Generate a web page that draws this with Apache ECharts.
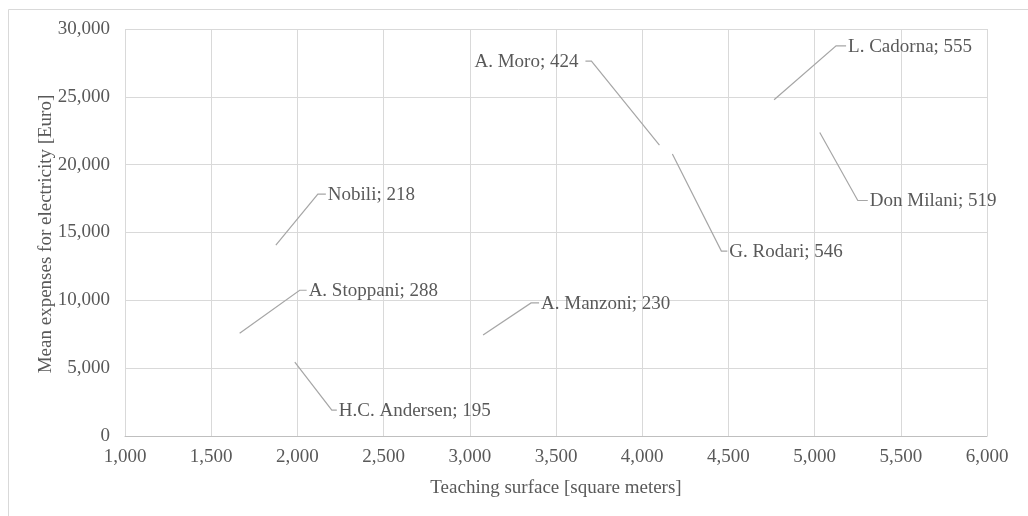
<!DOCTYPE html>
<html>
<head>
<meta charset="utf-8">
<script src="https://cdn.jsdelivr.net/npm/echarts@6/dist/echarts.min.js"></script>
<style>
  html, body { margin: 0; padding: 0; background: #ffffff; }
  #chart { width: 1028px; height: 516px; }
</style>
</head>
<body>
<div id="chart"></div>
<script>
// Schools: teaching surface vs. mean electricity expenses
const schools = ['Nobili', 'A. Stoppani', 'H.C. Andersen', 'A. Manzoni', 'A. Moro', 'G. Rodari', 'L. Cadorna', 'Don Milani'];
const pupils = [218, 288, 195, 230, 424, 546, 555, 519];
const surface = [1875, 1665, 1985, 3077, 4100, 4175, 4765, 5030];
const expenses = [14070, 7575, 5440, 7450, 21440, 20780, 24780, 22370];

// Leader-line geometry per label, in pixels: [elbow dx, elbow dy, horizontal run]
// A negative run puts the label on the left side of the elbow.
const leader = [
  [42, -51, 8],
  [60, -43, 7],
  [37, 48, 5],
  [48, -32, 8],
  [-68, -84, -6],
  [49, 97, 6],
  [62, -54, 10],
  [38, 68, 10]
];

const FONT = '"Times New Roman", "Liberation Serif", "DejaVu Serif", serif';
const SIZE = 19;
const TEXT = '#595959';
const fmt = v => String(v).replace(/\B(?=(\d{3})+(?!\d))/g, ',');

const data = surface.map((x, i) => [x, expenses[i], i]);

const chart = echarts.init(document.getElementById('chart'), null, { renderer: 'canvas' });
chart.setOption({
  animation: false,
  backgroundColor: '#ffffff',
  grid: { left: 125, right: 41, top: 29, bottom: 80, containLabel: false },
  xAxis: {
    type: 'value', min: 1000, max: 6000, interval: 500,
    axisLine: { show: true, lineStyle: { color: '#bfbfbf', width: 1 } },
    axisTick: { show: false },
    axisLabel: { color: TEXT, fontFamily: FONT, fontSize: SIZE, margin: 12, formatter: fmt },
    splitLine: { show: true, lineStyle: { color: '#d9d9d9', width: 1 } }
  },
  yAxis: {
    type: 'value', min: 0, max: 30000, interval: 5000,
    axisLine: { show: false },
    axisTick: { show: false },
    axisLabel: { color: TEXT, fontFamily: FONT, fontSize: SIZE, margin: 15, formatter: fmt },
    splitLine: { show: true, lineStyle: { color: '#d9d9d9', width: 1 } }
  },
  graphic: [
    {
      type: 'rect', left: 6, top: 7, silent: true, z: -1,
      shape: { x: 0.5, y: 0.5, width: 1040, height: 530 },
      style: { fill: 'none', stroke: '#d9d9d9', lineWidth: 1 }
    },
    {
      type: 'text', x: 556, y: 488,
      style: { text: 'Teaching surface [square meters]', fill: TEXT, font: SIZE + 'px ' + FONT, align: 'center', verticalAlign: 'middle' }
    },
    {
      type: 'text', x: 46, y: 234, rotation: Math.PI / 2,
      style: { text: 'Mean expenses for electricity [Euro]', fill: TEXT, font: SIZE + 'px ' + FONT, align: 'center', verticalAlign: 'middle' }
    }
  ],
  series: [{
    type: 'custom',
    data: data,
    encode: { x: 0, y: 1 },
    clip: false,
    renderItem: function (params, api) {
      const i = api.value(2);
      const p = api.coord([api.value(0), api.value(1)]);
      const g = leader[i];
      const ex = p[0] + g[0], ey = p[1] + g[1];
      const hx = ex + g[2];
      const left = g[2] >= 0;
      return {
        type: 'group',
        children: [
          {
            type: 'polyline',
            shape: { points: [p, [ex, ey], [hx, ey]] },
            style: { stroke: '#a6a6a6', lineWidth: 1.2, fill: 'none' }
          },
          {
            type: 'text',
            x: left ? hx + 2 : hx - 7,
            y: ey + 1,
            style: {
              text: schools[i] + '; ' + pupils[i],
              fill: TEXT, font: SIZE + 'px ' + FONT,
              align: left ? 'left' : 'right', verticalAlign: 'middle'
            }
          }
        ]
      };
    }
  }]
});
</script>
</body>
</html>
